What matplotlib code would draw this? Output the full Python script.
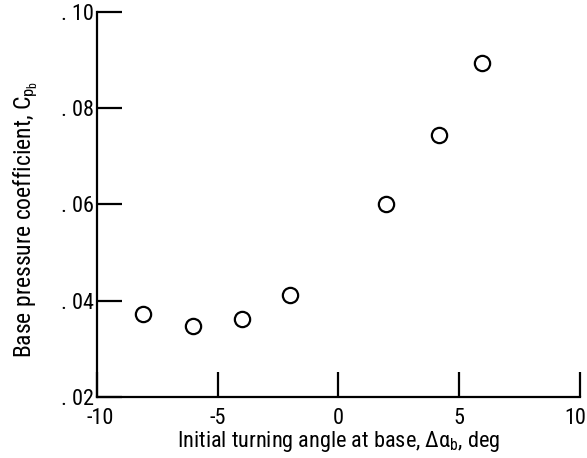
import matplotlib
matplotlib.use("Agg")
import matplotlib.pyplot as plt
import matplotlib.transforms as mtransforms
from matplotlib import font_manager

angle = [-8.1, -6.0, -4.0, -2.0, 1.95, 4.17, 5.95]
cpb = [0.0372, 0.0348, 0.0363, 0.0412, 0.0601, 0.0744, 0.0893]
xticks = [-10, -5, 0, 5, 10]
xtick_labels = ["-10", "-5", "0", "5", "10"]
yticks = [0.02, 0.04, 0.06, 0.08, 0.10]
ytick_labels = [". 02", ". 04", ". 06", ". 08", ". 10"]

names = {f.name for f in font_manager.fontManager.ttflist}
main = "DejaVu Sans"
for cand in ["Liberation Sans Narrow", "Roboto Condensed", "Open Sans Condensed",
             "DejaVu Sans Condensed", "Liberation Sans"]:
    if cand in names:
        main = cand
        break
fam = [main, "DejaVu Sans"]
plt.rcParams['font.family'] = fam
plt.rcParams['mathtext.fontset'] = 'custom'
plt.rcParams['mathtext.rm'] = main
plt.rcParams['mathtext.it'] = main
plt.rcParams['mathtext.sf'] = main

fig = plt.figure(figsize=(5.87, 4.58), dpi=100)
ax = fig.add_axes([0.165, 0.133, 0.823, 0.841])
ax.plot(angle, cpb, linestyle='none', marker='o', markersize=11,
        markerfacecolor='white', markeredgecolor='black', markeredgewidth=1.6)
ax.set_xlim(-10, 10)
ax.set_ylim(0.02, 0.10)
for s in ['top', 'right']:
    ax.spines[s].set_visible(False)
for s in ['left', 'bottom']:
    ax.spines[s].set_linewidth(1.6)
ax.set_xticks(xticks)
ax.set_xticklabels(xtick_labels)
ax.set_yticks(yticks)
ax.set_yticklabels(ytick_labels)
ax.tick_params(axis='both', direction='in', length=18, width=1.6, labelsize=16)
ax.tick_params(axis='x', pad=8)
ax.tick_params(axis='y', pad=2)
lbls = ax.get_xticklabels()
lbls[-1].set_transform(lbls[-1].get_transform() +
                       mtransforms.ScaledTranslation(-5/100, 0, fig.dpi_scale_trans))
lbls[0].set_transform(lbls[0].get_transform() +
                      mtransforms.ScaledTranslation(3/100, 0, fig.dpi_scale_trans))
ax.set_xlabel(r"Initial turning angle at base, $\Delta\alpha_{\mathrm{b}}$, deg", fontsize=16, labelpad=0)
ax.set_ylabel(r"Base pressure coefficient, $C_{p_{\mathrm{b}}}$", fontsize=17)
ax.yaxis.set_label_coords(-0.118, 0.46)
fig.savefig("out.png", dpi=100)
